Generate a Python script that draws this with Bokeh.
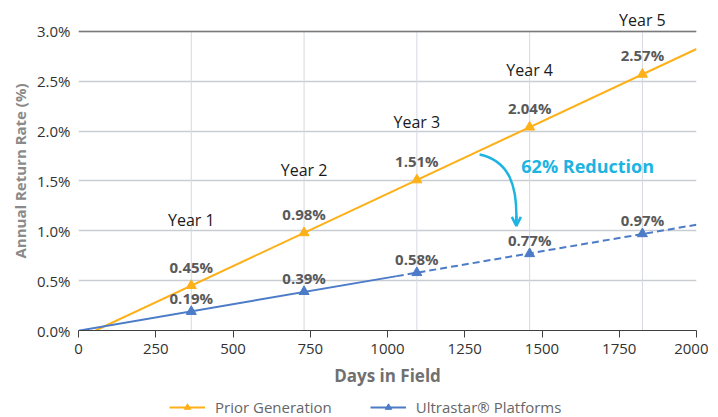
import numpy as np
from bokeh.plotting import figure
from bokeh.layouts import column
from bokeh.models import (Range1d, FixedTicker, PrintfTickFormatter, Span, Label,
                          Legend, LegendItem, Arrow, OpenHead)
from bokeh.core.properties import value
from bokeh.embed import file_html
from bokeh.resources import INLINE

# ---- data ----
days = [365, 730, 1095, 1460, 1825]
prior_gen = [0.45, 0.98, 1.51, 2.04, 2.57]
ultrastar = [0.19, 0.39, 0.58, 0.77, 0.97]
prior_labels = ["0.45%", "0.98%", "1.51%", "2.04%", "2.57%"]
ultra_labels = ["0.19%", "0.39%", "0.58%", "0.77%", "0.97%"]
year_names = ["Year 1", "Year 2", "Year 3", "Year 4", "Year 5"]
year_label_y = [1.11, 1.61, 2.09, 2.61, 3.11]
x_ticks = [0, 250, 500, 750, 1000, 1250, 1500, 1750, 2000]
y_ticks = [0.0, 0.5, 1.0, 1.5, 2.0, 2.5, 3.0]
series_names = ["Prior Generation", "Ultrastar\u00ae Platforms"]
solid_end_day = 1030

ORANGE = "#FDB018"
BLUE = "#4C7BC7"
GRAY_LBL = "#595959"
CYAN = "#1DB4E2"
FONT = "Open Sans"

p = figure(frame_width=618, frame_height=319, output_backend="svg", toolbar_location=None,
           x_range=Range1d(0, 2000), y_range=Range1d(0, 3.2),
           min_border_left=78, min_border_right=12, min_border_top=11, min_border_bottom=62)
p.outline_line_color = None
p.background_fill_color = "white"

# grids
p.xgrid.grid_line_color = None
p.segment(x0=days, y0=[y_ticks[0]] * len(days), x1=days, y1=[y_ticks[-1]] * len(days),
          line_color="#D5DAE0", line_width=1)
p.ygrid.ticker = FixedTicker(ticks=y_ticks)
p.ygrid.grid_line_color = "#C9CDD2"
p.ygrid.grid_line_width = 1.5
p.add_layout(Span(location=y_ticks[-1], dimension="width", line_color="#7A7A7A", line_width=1.5))

# axes
p.xaxis.ticker = FixedTicker(ticks=x_ticks)
p.xaxis.axis_line_color = "#404040"
p.xaxis.major_tick_line_color = "#404040"
p.xaxis.major_tick_out = 7
p.xaxis.major_tick_in = 0
p.xaxis.minor_tick_line_color = None
p.xaxis.major_label_text_font = FONT
p.xaxis.major_label_text_font_size = "15px"
p.xaxis.major_label_text_color = "#333333"
p.xaxis.major_label_standoff = 6
p.xaxis.axis_label = "Days in Field"
p.xaxis.axis_label_text_font = FONT
p.xaxis.axis_label_text_font_size = "17px"
p.xaxis.axis_label_text_font_style = "bold"
p.xaxis.axis_label_text_color = "#707070"
p.xaxis.axis_label_standoff = 7

p.yaxis.ticker = FixedTicker(ticks=y_ticks)
p.yaxis.formatter = PrintfTickFormatter(format="%.1f%%")
p.yaxis.axis_line_color = None
p.yaxis.major_tick_line_color = None
p.yaxis.minor_tick_line_color = None
p.yaxis.major_label_text_font = FONT
p.yaxis.major_label_text_font_size = "15px"
p.yaxis.major_label_text_color = "#333333"
p.yaxis.major_label_standoff = 2
p.yaxis.axis_label = "Annual Return Rate (%)"
p.yaxis.axis_label_text_font = FONT
p.yaxis.axis_label_text_font_size = "15px"
p.yaxis.axis_label_text_font_style = "bold"
p.yaxis.axis_label_text_color = "#8A8A8A"
p.yaxis.axis_label_standoff = 4

# trend lines (linear fits to the data)
d = np.array(days, dtype=float)
po = np.polyfit(d, np.array(prior_gen), 1)
pu = np.polyfit(d, np.array(ultrastar), 1)
x0_o = -po[1] / po[0]
xo = np.array([x0_o, 2000.0])
p.line(xo, np.polyval(po, xo), line_color=ORANGE, line_width=2)
xs = np.array([0.0, solid_end_day])
p.line(xs, np.polyval(pu, xs), line_color=BLUE, line_width=2)
xd = np.array([solid_end_day, 2000.0])
p.line(xd, np.polyval(pu, xd), line_color=BLUE, line_width=2, line_dash="7 4")

p.scatter(days, prior_gen, marker="triangle", size=10, fill_color=ORANGE, line_color=ORANGE)
p.scatter(days, ultrastar, marker="triangle", size=10, fill_color=BLUE, line_color=BLUE)

# data labels
p.text(days, prior_gen, text=prior_labels, text_align="center", text_baseline="middle",
       y_offset=-19, text_font=value(FONT), text_font_size="15px", text_font_style="bold",
       text_color=GRAY_LBL)
p.text(days, ultrastar, text=ultra_labels, text_align="center", text_baseline="middle",
       y_offset=-14, text_font=value(FONT), text_font_size="15px", text_font_style="bold",
       text_color=GRAY_LBL)

# year labels
for xd_, yy, nm in zip(days, year_label_y, year_names):
    p.add_layout(Label(x=xd_, y=yy, text=nm, text_align="center", text_baseline="middle",
                       text_font=FONT, text_font_size="16px", text_color="#1A1A1A"))

# reduction arrow
p.bezier(x0=[1298], y0=[1.765], x1=[1417], y1=[1.10], cx0=[1395], cy0=[1.70],
         cx1=[1420], cy1=[1.45], line_color=CYAN, line_width=2.5)
p.add_layout(Arrow(end=OpenHead(size=9, line_color=CYAN, line_width=2.5),
                   x_start=1417, y_start=1.15, x_end=1417, y_end=1.05,
                   line_color=CYAN, line_width=2.5))
p.add_layout(Label(x=1433, y=1.655, text="62% Reduction", text_align="left",
                   text_baseline="middle", text_font=FONT, text_font_size="18px",
                   text_font_style="bold", text_color=CYAN))

# legend strip below the chart (series drawn out of view, only their legend glyphs show)
lf = figure(frame_width=618, height=25, output_backend="svg", toolbar_location=None,
            x_range=Range1d(-2, -1), y_range=Range1d(-2, -1),
            min_border_left=78, min_border_right=12, min_border_top=0, min_border_bottom=0)
lf.axis.visible = False
lf.grid.visible = False
lf.outline_line_color = None
lo = lf.line(days, prior_gen, line_color=ORANGE, line_width=2)
so = lf.scatter(days, prior_gen, marker="triangle", size=10, fill_color=ORANGE, line_color=ORANGE)
lb = lf.line(days, ultrastar, line_color=BLUE, line_width=2)
sb = lf.scatter(days, ultrastar, marker="triangle", size=10, fill_color=BLUE, line_color=BLUE)
legend = Legend(items=[LegendItem(label=series_names[0], renderers=[lo, so]),
                       LegendItem(label=series_names[1], renderers=[lb, sb])],
                orientation="horizontal", location=(91, 0),
                label_text_font=FONT, label_text_font_size="15px", label_text_color="#666666",
                glyph_width=36, glyph_height=16, label_height=16, label_standoff=10,
                spacing=38, padding=0, margin=0, border_line_color=None,
                background_fill_alpha=0)
lf.add_layout(legend, "center")

layout = column(p, lf, spacing=0)
open("out.html", "w").write(file_html(layout, INLINE))
